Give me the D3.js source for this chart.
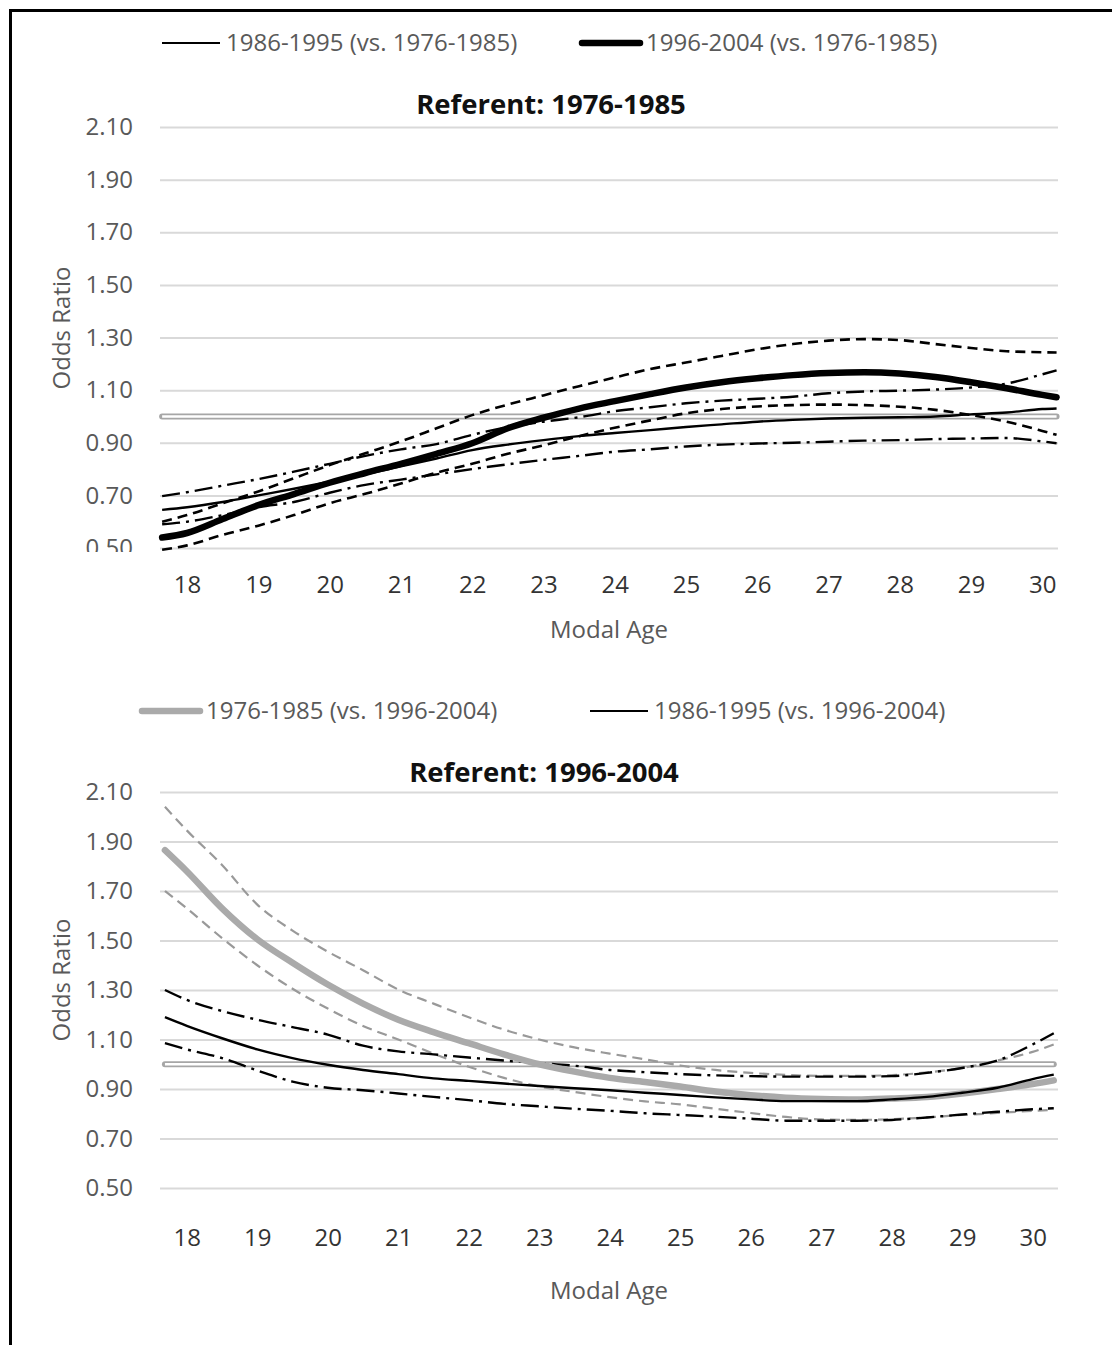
<!DOCTYPE html>
<html>
<head>
<meta charset="utf-8" />
<title>Odds ratio by modal age</title>
<script src="https://cdn.jsdelivr.net/npm/d3@7/dist/d3.min.js"></script>
<style>
  html, body { margin: 0; padding: 0; background: #fff; }
  svg { display: block; }
  text { font-family: "Open Sans", sans-serif; }
  .ytick text { fill: #595959; font-size: 24px; }
  .xtick text { fill: #333; font-size: 24px; }
  .grid line { stroke: #d9d9d9; stroke-width: 2; }
  .legend text { fill: #595959; font-size: 24px; }
  .title { font-weight: bold; font-size: 27.5px; fill: #111; }
  .axlabel { fill: #595959; font-size: 24px; }
</style>
</head>
<body>
<svg width="1112" height="1345"></svg>
<script>
let agesTop = [17.65, 18, 18.5, 19, 19.5, 20, 20.5, 21, 21.5, 22, 22.5, 23, 23.5, 24, 24.5, 25, 25.5, 26, 26.5, 27, 27.5, 28, 28.5, 29, 29.5, 30, 30.2];
let agesBottom = [17.69, 18, 18.5, 19, 19.5, 20, 20.5, 21, 21.5, 22, 22.5, 23, 23.5, 24, 24.5, 25, 25.5, 26, 26.5, 27, 27.5, 28, 28.5, 29, 29.5, 30, 30.3];

let xTicks = [18, 19, 20, 21, 22, 23, 24, 25, 26, 27, 28, 29, 30];
let yTicks = [0.5, 0.7, 0.9, 1.1, 1.3, 1.5, 1.7, 1.9, 2.1];

// referent 1976-1985
let r86 = [0.645, 0.655, 0.675, 0.70, 0.725, 0.752, 0.78, 0.81, 0.84, 0.872, 0.893, 0.91, 0.925, 0.937, 0.948, 0.96, 0.97, 0.98, 0.987, 0.992, 0.995, 0.997, 1.0, 1.008, 1.015, 1.028, 1.03];
let r86hi = [0.697, 0.712, 0.737, 0.762, 0.79, 0.82, 0.85, 0.875, 0.895, 0.93, 0.96, 0.98, 0.997, 1.02, 1.035, 1.05, 1.06, 1.067, 1.075, 1.088, 1.095, 1.098, 1.102, 1.11, 1.125, 1.16, 1.175];
let r86lo = [0.59, 0.60, 0.625, 0.655, 0.675, 0.71, 0.74, 0.76, 0.78, 0.80, 0.818, 0.835, 0.85, 0.866, 0.875, 0.886, 0.893, 0.897, 0.90, 0.904, 0.908, 0.91, 0.914, 0.916, 0.918, 0.905, 0.898];
let r96 = [0.54, 0.557, 0.61, 0.663, 0.705, 0.748, 0.785, 0.82, 0.858, 0.898, 0.955, 0.995, 1.03, 1.058, 1.085, 1.11, 1.13, 1.145, 1.157, 1.165, 1.168, 1.163, 1.15, 1.13, 1.107, 1.082, 1.073];
let r96hi = [0.60, 0.625, 0.67, 0.715, 0.765, 0.815, 0.86, 0.905, 0.955, 1.005, 1.045, 1.08, 1.115, 1.148, 1.18, 1.205, 1.23, 1.255, 1.275, 1.288, 1.294, 1.29, 1.275, 1.26, 1.248, 1.244, 1.243];
let r96lo = [0.493, 0.51, 0.55, 0.585, 0.625, 0.67, 0.706, 0.745, 0.786, 0.82, 0.858, 0.89, 0.925, 0.957, 0.985, 1.012, 1.028, 1.038, 1.043, 1.045, 1.043, 1.037, 1.025, 1.005, 0.98, 0.945, 0.93];

// referent 1996-2004
let b76 = [1.865, 1.78, 1.63, 1.505, 1.41, 1.322, 1.245, 1.18, 1.13, 1.085, 1.04, 1.0, 0.97, 0.945, 0.928, 0.91, 0.89, 0.875, 0.865, 0.86, 0.858, 0.862, 0.868, 0.882, 0.9, 0.92, 0.935];
let b76hi = [2.04, 1.945, 1.805, 1.645, 1.54, 1.455, 1.38, 1.302, 1.245, 1.19, 1.14, 1.10, 1.068, 1.043, 1.02, 0.995, 0.977, 0.965, 0.957, 0.953, 0.953, 0.956, 0.967, 0.985, 1.015, 1.05, 1.08];
let b76lo = [1.70, 1.63, 1.51, 1.40, 1.305, 1.225, 1.155, 1.10, 1.043, 0.99, 0.945, 0.91, 0.888, 0.867, 0.85, 0.838, 0.82, 0.803, 0.787, 0.777, 0.775, 0.778, 0.785, 0.795, 0.803, 0.812, 0.815];
let b86 = [1.19, 1.155, 1.105, 1.06, 1.025, 0.998, 0.977, 0.96, 0.943, 0.933, 0.922, 0.912, 0.903, 0.895, 0.885, 0.876, 0.866, 0.858, 0.851, 0.851, 0.851, 0.858, 0.868, 0.885, 0.905, 0.94, 0.958];
let b86hi = [1.30, 1.26, 1.215, 1.18, 1.15, 1.12, 1.075, 1.052, 1.04, 1.027, 1.015, 1.005, 0.994, 0.977, 0.968, 0.96, 0.955, 0.952, 0.95, 0.95, 0.95, 0.952, 0.965, 0.985, 1.015, 1.08, 1.125];
let b86lo = [1.085, 1.06, 1.025, 0.975, 0.93, 0.905, 0.895, 0.882, 0.868, 0.855, 0.84, 0.83, 0.82, 0.812, 0.802, 0.795, 0.788, 0.78, 0.772, 0.772, 0.772, 0.775, 0.785, 0.797, 0.808, 0.818, 0.822];

const svg = d3.select('svg');

// frame (only top and left edges visible)
svg.append('rect')
   .attr('x', 10.5).attr('y', 10.5)
   .attr('width', 1200).attr('height', 1400)
   .attr('fill', 'none').attr('stroke', '#000').attr('stroke-width', 3);

const dashDot = '18,6,3,6';
const dashed = '10,6';

function drawChart(cfg) {
  let x = d3.scaleLinear().domain(cfg.xDomain).range([160, 1058]);
  let y = d3.scaleLinear().domain([0.5, 2.1]).range([cfg.bottom, cfg.top]);
  let g = svg.append('g');

  // gridlines
  g.append('g')
   .attr('class', 'grid')
   .attr('transform', 'translate(160,0)')
   .call(d3.axisLeft(y).tickValues(yTicks).tickSize(-898).tickFormat(''))
   .call(a => a.select('.domain').remove());

  // tick labels, clipped at the bottom so the lowest one gets cut like the original
  let clipId = 'clip' + cfg.top;
  svg.append('clipPath').attr('id', clipId)
     .append('rect').attr('x', -200).attr('y', cfg.top - 40)
     .attr('width', 200).attr('height', cfg.bottom - cfg.top + cfg.clipExtra + 40);

  g.append('g')
   .attr('class', 'ytick')
   .attr('transform', 'translate(160,0)')
   .attr('clip-path', 'url(#' + clipId + ')')
   .call(d3.axisLeft(y).tickValues(yTicks).tickSize(0).tickPadding(27).tickFormat(d3.format('.2f')))
   .call(a => a.select('.domain').remove());

  g.append('g')
   .attr('class', 'xtick')
   .attr('transform', 'translate(0,' + cfg.bottom + ')')
   .call(d3.axisBottom(x).tickValues(xTicks).tickSize(0))
   .call(a => a.select('.domain').remove())
   .selectAll('text').attr('y', cfg.xLabelY - cfg.bottom).attr('dy', '0.35em');

  // OR = 1 reference line
  let a0 = cfg.ages[0], a1 = cfg.ages[cfg.ages.length - 1];
  g.append('line').attr('x1', x(a0)).attr('x2', x(a1)).attr('y1', y(1)).attr('y2', y(1))
   .attr('stroke', '#a6a6a6').attr('stroke-width', 6).attr('stroke-linecap', 'round');
  g.append('line').attr('x1', x(a0)).attr('x2', x(a1)).attr('y1', y(1)).attr('y2', y(1))
   .attr('stroke', '#fff').attr('stroke-width', 2.5);

  let line = d3.line().x((d, i) => x(cfg.ages[i])).y(d => y(d)).curve(d3.curveMonotoneX);
  cfg.series.forEach(s => {
    g.append('path')
     .attr('d', line(s.values))
     .attr('fill', 'none')
     .attr('stroke', s.color)
     .attr('stroke-width', s.width)
     .attr('stroke-dasharray', s.dash || null)
     .attr('stroke-linecap', s.width > 4 ? 'round' : 'butt');
  });

  // legend
  let lg = g.append('g').attr('class', 'legend');
  cfg.legend.forEach(l => {
    lg.append('line').attr('x1', l.x).attr('x2', l.x + 58).attr('y1', cfg.legendY).attr('y2', cfg.legendY)
      .attr('stroke', l.color).attr('stroke-width', l.width).attr('stroke-linecap', l.width > 4 ? 'round' : 'butt');
    lg.append('text').attr('x', l.x + 64).attr('y', cfg.legendY).attr('dy', '0.35em').text(l.label);
  });

  g.append('text').attr('class', 'title')
   .attr('x', cfg.titleX).attr('y', cfg.titleY).attr('dy', '0.35em')
   .attr('text-anchor', 'middle').text(cfg.title);

  g.append('text').attr('class', 'axlabel')
   .attr('x', 609).attr('y', cfg.xTitleY).attr('dy', '0.35em')
   .attr('text-anchor', 'middle').text('Modal Age');

  g.append('text').attr('class', 'axlabel')
   .attr('transform', 'translate(62,' + cfg.yTitleY + ') rotate(-90)')
   .attr('dy', '0.35em').attr('text-anchor', 'middle').text('Odds Ratio');
}

drawChart({
  top: 127, bottom: 548, clipExtra: 4,
  xDomain: [17.62, 30.22],
  ages: agesTop,
  xLabelY: 585, xTitleY: 630, yTitleY: 328,
  title: 'Referent: 1976-1985', titleX: 551, titleY: 104,
  legendY: 43,
  legend: [
    {x: 162, color: '#000', width: 2.2, label: '1986-1995 (vs. 1976-1985)'},
    {x: 582, color: '#000', width: 6.5, label: '1996-2004 (vs. 1976-1985)'}
  ],
  series: [
    {values: r86hi, color: '#000', width: 2.4, dash: dashDot},
    {values: r86lo, color: '#000', width: 2.4, dash: dashDot},
    {values: r96hi, color: '#000', width: 2.6, dash: dashed},
    {values: r96lo, color: '#000', width: 2.6, dash: dashed},
    {values: r86, color: '#000', width: 2.4},
    {values: r96, color: '#000', width: 6.5}
  ]
});

drawChart({
  top: 792, bottom: 1188, clipExtra: 40,
  xDomain: [17.62, 30.36],
  ages: agesBottom,
  xLabelY: 1238, xTitleY: 1291, yTitleY: 980,
  title: 'Referent: 1996-2004', titleX: 544, titleY: 772,
  legendY: 711,
  legend: [
    {x: 142, color: '#aaaaaa', width: 6.5, label: '1976-1985 (vs. 1996-2004)'},
    {x: 590, color: '#000', width: 2.2, label: '1986-1995 (vs. 1996-2004)'}
  ],
  series: [
    {values: b76hi, color: '#999', width: 2.2, dash: dashed},
    {values: b76lo, color: '#999', width: 2.2, dash: dashed},
    {values: b86hi, color: '#000', width: 2.4, dash: dashDot},
    {values: b86lo, color: '#000', width: 2.4, dash: dashDot},
    {values: b76, color: '#aaaaaa', width: 6.5},
    {values: b86, color: '#000', width: 2.4}
  ]
});
</script>
</body>
</html>
